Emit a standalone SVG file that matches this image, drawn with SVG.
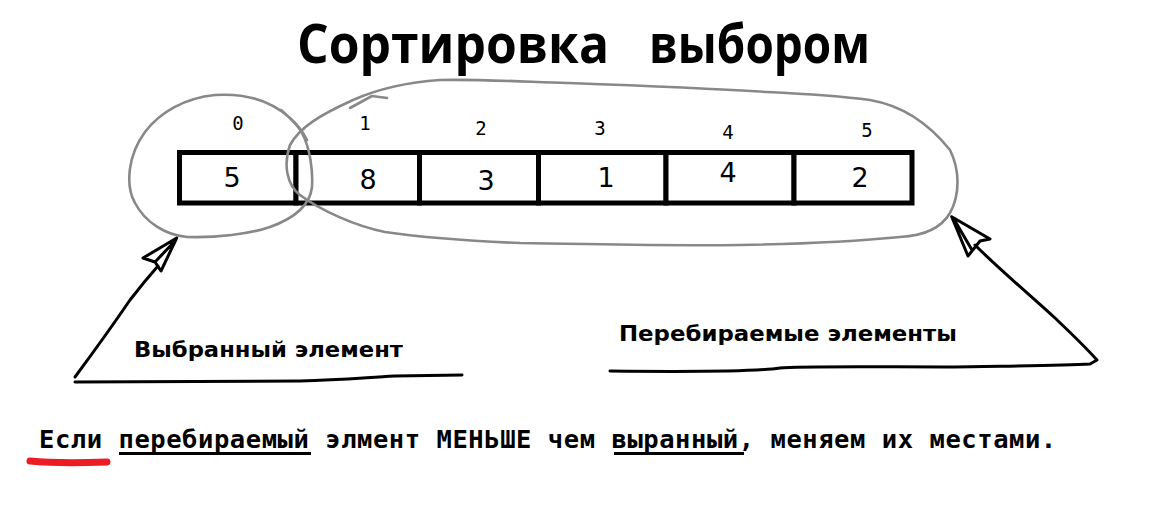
<svg xmlns="http://www.w3.org/2000/svg" width="1164" height="526" viewBox="0 0 1164 526">
<style>
.title{font-family:"Open Sans","DejaVu Sans",sans-serif;font-weight:bold;font-size:54px;fill:#000}
.cell{fill:#fff;stroke:#000;stroke-width:5}
.num{font-family:"DejaVu Sans","Liberation Sans",sans-serif;font-size:27px;fill:#000;text-anchor:middle}
.idx{font-family:"DejaVu Sans Mono","Liberation Mono",monospace;font-size:19px;fill:#000;text-anchor:middle}
.lbl{font-family:"DejaVu Sans","Liberation Sans",sans-serif;font-weight:bold;font-size:21px;fill:#000}
.note{font-family:"DejaVu Sans Mono","Liberation Mono",monospace;font-weight:bold;font-size:25.5px;letter-spacing:0.55px;fill:#000}
.ul{stroke:#000;stroke-width:3;fill:none}
.loop{fill:none;stroke:#888;stroke-width:2.6;stroke-linecap:round;stroke-linejoin:round}
.pen{fill:none;stroke:#000;stroke-width:3;stroke-linecap:round;stroke-linejoin:round}
</style>
<rect width="1164" height="526" fill="#fff"/>
<g id="title">
<text class="title" x="297" y="63" textLength="312" lengthAdjust="spacingAndGlyphs">Сортировка</text>
<text class="title" x="649" y="63" textLength="221" lengthAdjust="spacingAndGlyphs">выбором</text>
</g>
<g id="array">
<g id="cell0"><rect class="cell" x="179.5" y="152.5" width="116.5" height="50.5"/><text class="idx" x="238" y="130">0</text><text class="num" x="232" y="187">5</text></g>
<g id="cell1"><rect class="cell" x="296" y="152.5" width="123.5" height="50.5"/><text class="idx" x="365" y="130">1</text><text class="num" x="368" y="189">8</text></g>
<g id="cell2"><rect class="cell" x="419.5" y="152.5" width="119" height="50.5"/><text class="idx" x="481" y="135">2</text><text class="num" x="486" y="190">3</text></g>
<g id="cell3"><rect class="cell" x="538.5" y="152.5" width="127.5" height="50.5"/><text class="idx" x="600" y="135">3</text><text class="num" x="606" y="187">1</text></g>
<g id="cell4"><rect class="cell" x="666" y="152.5" width="128" height="50.5"/><text class="idx" x="728" y="139">4</text><text class="num" x="728" y="182">4</text></g>
<g id="cell5"><rect class="cell" x="794" y="152.5" width="118" height="50.5"/><text class="idx" x="867" y="137">5</text><text class="num" x="860" y="187">2</text></g>
</g>
<g id="selected-loop"><path class="loop" d="M281,110 C290,118 298,125 302,133 C310,148 313,170 312,187 C310,205 295,218 270,227 C250,234 215,238 187,237 C165,235 145,222 135,203 C125,185 128,155 145,132 C160,112 185,98 215,95 C245,93 270,100 290,118 C298,125 303,132 307,140"/></g>
<g id="iterated-loop"><path class="loop" d="M350,108 L372,96 L387,98 M353,100 C380,88 410,82 440,80 C480,79 530,82 567,83 C620,85 700,88 767,92 C810,94 840,96 870,100 C905,106 930,125 950,150 C960,170 960,195 950,213 C940,230 920,236 900,237 C850,242 800,244 740,245 C660,246 600,244 520,243 C470,241 420,237 385,232 C355,226 320,210 300,195 C287,185 283,165 290,145 C300,127 320,115 353,100"/></g>
<g id="label-selected"><text class="lbl" x="134" y="357" textLength="269" lengthAdjust="spacingAndGlyphs">Выбранный  элемент</text></g>
<g id="label-iterated"><text class="lbl" x="619" y="341" textLength="338" lengthAdjust="spacingAndGlyphs">Перебираемые  элементы</text></g>
<g id="connectors">
<path class="pen" d="M75,377 C95,350 115,322 130,300 C140,287 150,275 158,266"/>
<path class="pen" d="M176.7,238 L143,258 L155,262 L161,271 Z M155,262 L175,241"/>
<path class="pen" d="M75,382 L300,381 C340,380 360,378 395,376 L462,375"/>
<path class="pen" d="M975,245 C1000,270 1030,295 1055,318 C1075,337 1088,350 1097,360 L1090,364 C1060,366 1000,366 950,367 C880,367 800,366 780,368 C760,371 700,372 610,371"/>
<path class="pen" d="M951.7,216.7 L990,239 L980,241 L968,256 Z M955,221 L972,250"/>
</g>
<g id="note">
<text class="note" x="39" y="448">Если перебираемый элмент МЕНЬШЕ чем выранный, меняем их местами.</text>
<line class="ul" x1="119" y1="453.5" x2="311" y2="453.5"/>
<line class="ul" x1="614" y1="453.5" x2="744" y2="453.5"/>
<path d="M30,461 C50,463 80,463 107,462" fill="none" stroke="#ed1c24" stroke-width="7" stroke-linecap="round"/>
</g>
</svg>
